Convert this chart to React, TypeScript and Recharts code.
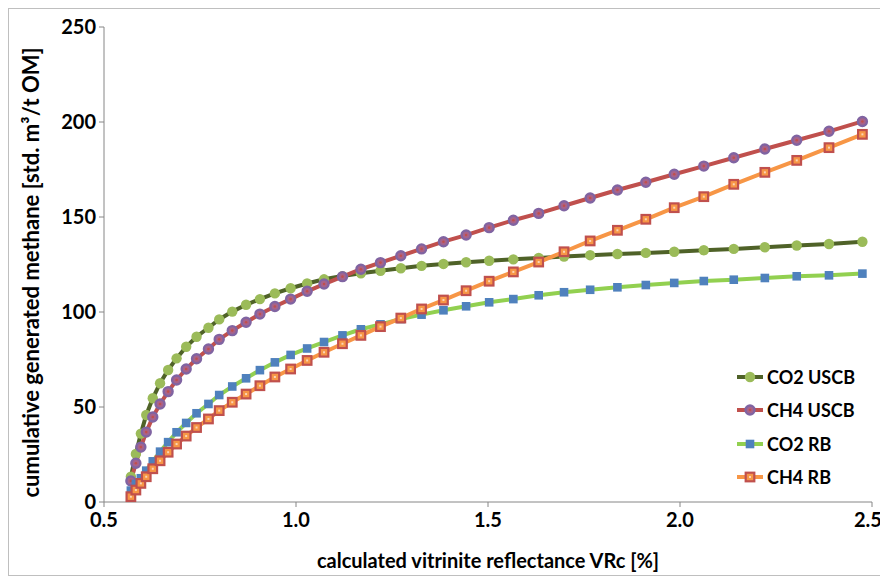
import React from "react";
import { LineChart, Line, XAxis, YAxis, Legend } from "recharts";

const VRC = [
  0.570, 0.583, 0.596, 0.610, 0.627, 0.646, 0.667, 0.689, 0.714, 0.741,
  0.772, 0.800, 0.834, 0.870, 0.906, 0.945, 0.986, 1.029, 1.073, 1.121,
  1.169, 1.220, 1.273, 1.327, 1.384, 1.443, 1.503, 1.566, 1.632, 1.698,
  1.766, 1.837, 1.911, 1.985, 2.062, 2.140, 2.221, 2.304, 2.388, 2.475,
];

const CO2_USCB = [
  13.3, 25.3, 36.0, 45.8, 54.6, 62.5, 69.5, 75.6, 81.7, 87.0,
  91.7, 96.1, 100.2, 103.8, 106.8, 109.8, 112.5, 115.0, 117.2, 118.9,
  120.4, 121.7, 123.0, 124.3, 125.3, 126.2, 127.0, 127.7, 128.4, 129.2,
  129.9, 130.5, 131.1, 131.7, 132.5, 133.2, 134.1, 135.0, 135.8, 137.0,
];

const CH4_USCB = [
  11.1, 20.4, 28.9, 36.8, 44.7, 51.6, 58.1, 64.2, 70.0, 75.4,
  80.5, 85.6, 90.2, 94.6, 98.9, 102.9, 106.8, 110.9, 114.7, 118.6,
  122.5, 126.0, 129.6, 133.2, 137.0, 140.5, 144.4, 148.3, 151.9, 155.9,
  160.0, 164.2, 168.3, 172.5, 176.8, 181.2, 185.8, 190.4, 195.1, 200.3,
];

const CO2_RB = [
  6.0, 9.5, 12.5, 16.5, 21.4, 26.5, 31.5, 36.7, 41.6, 46.7,
  51.6, 56.3, 60.8, 65.1, 69.4, 73.5, 77.4, 80.8, 84.2, 87.7,
  90.9, 93.5, 96.3, 98.6, 100.9, 103.0, 105.1, 106.8, 108.8, 110.4,
  111.7, 113.0, 114.2, 115.3, 116.3, 117.0, 117.9, 118.8, 119.3, 120.2,
];

const CH4_RB = [
  2.8, 6.3, 9.8, 13.3, 17.5, 21.7, 26.2, 30.5, 34.7, 39.2,
  43.7, 48.1, 52.5, 56.8, 61.2, 65.8, 70.0, 74.5, 78.8, 83.3,
  87.7, 92.3, 96.8, 101.6, 106.3, 111.2, 116.2, 121.1, 126.3, 131.7,
  137.4, 143.0, 148.8, 154.9, 160.7, 167.2, 173.5, 179.8, 186.5, 193.5,
];

const X_TICKS = [0.5, 1.0, 1.5, 2.0, 2.5];
const Y_TICKS = [0, 50, 100, 150, 200, 250];

const SERIES_NAMES = ["CO2 USCB", "CH4 USCB", "CO2 RB", "CH4 RB"];
const SERIES_KEYS = ["co2Uscb", "ch4Uscb", "co2Rb", "ch4Rb"];

const data = VRC.map((x, i) => ({
  x,
  co2Uscb: CO2_USCB[i],
  ch4Uscb: CH4_USCB[i],
  co2Rb: CO2_RB[i],
  ch4Rb: CH4_RB[i],
}));

const FONT = "Lato, 'Open Sans', sans-serif";

const LINE_COLORS: Record<string, string> = {
  co2Uscb: "#4F6228",
  ch4Uscb: "#C0504D",
  co2Rb: "#92D050",
  ch4Rb: "#F79646",
};

function marker(key: string, cx: number, cy: number, k?: any) {
  if (key === "co2Uscb") {
    return <circle key={k} cx={cx} cy={cy} r={5.2} fill="#9BBB59" stroke="none" />;
  }
  if (key === "ch4Uscb") {
    return (
      <g key={k}>
        <circle cx={cx} cy={cy} r={4.5} fill="#A8638A" stroke="#8064A2" strokeWidth={2.4} />
        <circle cx={cx} cy={cy} r={1.3} fill="#C0504D" />
      </g>
    );
  }
  if (key === "co2Rb") {
    return <rect key={k} x={cx - 4.3} y={cy - 4.3} width={8.6} height={8.6} fill="#4F81BD" stroke="none" />;
  }
  return (
    <g key={k}>
      <rect x={cx - 4.3} y={cy - 4.3} width={8.6} height={8.6} fill="#F79646" stroke="#C0504D" strokeWidth={2.2} />
      <rect x={cx - 1} y={cy - 1} width={2} height={2} fill="#FBD5B5" />
    </g>
  );
}

const makeDot = (key: string) => (props: any) => {
  const { cx, cy, index } = props;
  if (typeof cx !== "number" || typeof cy !== "number") return <g key={`${key}-${index}`} />;
  return marker(key, cx, cy, `${key}-${index}`);
};

const renderLegend = () => (
  <div style={{ fontFamily: FONT, fontWeight: 700, fontSize: 18, color: "#000" }}>
    {SERIES_KEYS.map((k, i) => (
      <div key={k} style={{ display: "flex", alignItems: "center", height: 33.5 }}>
        <svg width={30} height={14} style={{ display: "block" }}>
          <line x1={2} y1={7} x2={28} y2={7} stroke={LINE_COLORS[k]} strokeWidth={4} />
          {marker(k, 15, 7)}
        </svg>
        <span style={{ marginLeft: 2, whiteSpace: "nowrap" }}>{SERIES_NAMES[i]}</span>
      </div>
    ))}
  </div>
);

const tickStyle = { fontFamily: FONT, fontWeight: 700, fontSize: 20, fill: "#000" };

const XTick = (props: any) => {
  const { x, y, payload } = props;
  const v = payload.value as number;
  const shift = v === X_TICKS[X_TICKS.length - 1] ? -4 : 0;
  return (
    <text x={x + shift} y={y} dy="0.71em" textAnchor="middle" style={tickStyle} fill="#000">
      {v.toFixed(1)}
    </text>
  );
};

export default function App() {
  return (
    <div
      style={{
        position: "relative",
        width: 876,
        height: 568,
        border: "1px solid #BFBFBF",
        boxSizing: "border-box",
        background: "#fff",
      }}
    >
      <style>{`.recharts-surface, .recharts-wrapper { overflow: visible !important; }`}</style>
      <LineChart
        width={874}
        height={566}
        data={data}
        margin={{ top: 18, right: 11, left: 0, bottom: 0 }}
      >
        <XAxis
          dataKey="x"
          type="number"
          domain={[0.5, 2.5]}
          ticks={X_TICKS}
          interval={0}
          height={73}
          tick={<XTick />}
          tickSize={5}
          tickMargin={6}
          axisLine={{ stroke: "#868686", strokeWidth: 1 }}
          tickLine={{ stroke: "#868686" }}
          allowDataOverflow
          label={(p: any) => {
            const vb = p.viewBox || { x: 95, y: 493, width: 768 };
            return (
              <text
                x={vb.x + vb.width / 2}
                y={vb.y + 61}
                textAnchor="middle"
                dominantBaseline="middle"
                style={{ fontFamily: FONT, fontWeight: 700, fontSize: 20 }}
                fill="#000"
              >
                calculated vitrinite reflectance VRc [%]
              </text>
            );
          }}
        />
        <YAxis
          type="number"
          domain={[0, 250]}
          ticks={Y_TICKS}
          interval={0}
          width={95}
          tick={tickStyle}
          tickSize={5}
          tickMargin={3}
          axisLine={{ stroke: "#868686", strokeWidth: 1 }}
          tickLine={{ stroke: "#868686" }}
          label={(p: any) => {
            const vb = p.viewBox || { x: 0, y: 18, width: 95, height: 475 };
            const cx = 24;
            const cy = vb.y + vb.height / 2 + 8;
            return (
              <text
                x={cx}
                y={cy}
                textAnchor="middle"
                dominantBaseline="middle"
                transform={`rotate(-90 ${cx} ${cy})`}
                style={{ fontFamily: FONT, fontWeight: 700, fontSize: 22 }}
                fill="#000"
              >
                cumulative generated methane [std. m³/t OM]
              </text>
            );
          }}
        />
        <Legend
          layout="horizontal"
          verticalAlign="bottom"
          align="left"
          content={renderLegend}
          wrapperStyle={{ left: 726, top: 351, bottom: "auto", width: 150, height: 0, overflow: "visible" }}
        />
        {SERIES_KEYS.map((k, i) => (
          <Line
            key={k}
            type="linear"
            dataKey={k}
            name={SERIES_NAMES[i]}
            stroke={LINE_COLORS[k]}
            strokeWidth={4}
            dot={makeDot(k)}
            activeDot={false}
            isAnimationActive={false}
          />
        ))}
      </LineChart>
    </div>
  );
}
